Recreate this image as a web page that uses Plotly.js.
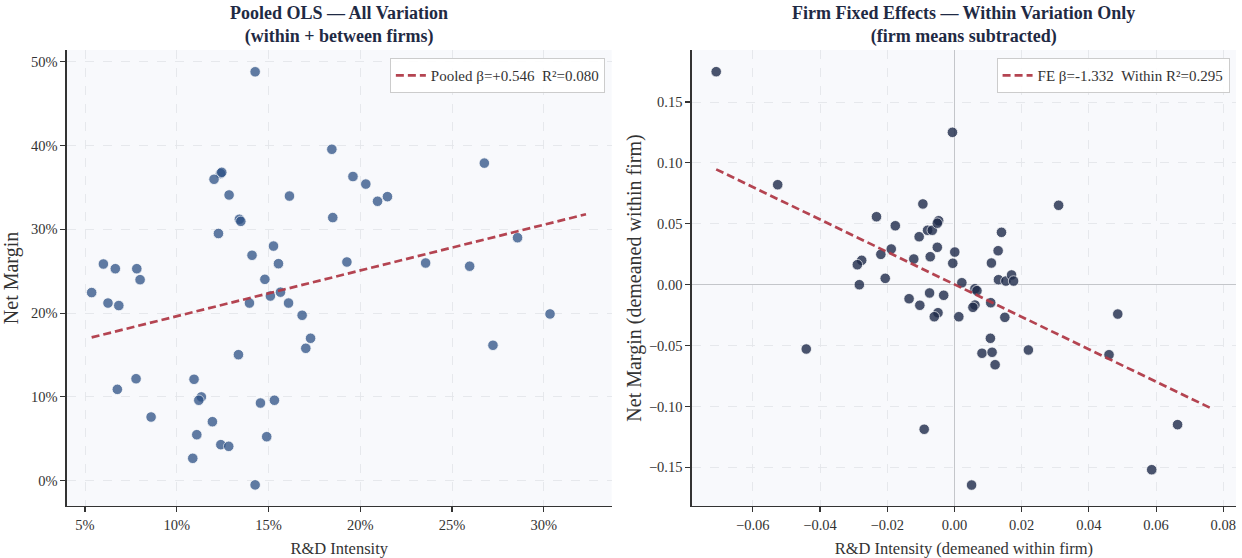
<!DOCTYPE html>
<html><head><meta charset="utf-8">
<script src="https://cdn.plot.ly/plotly-3.0.1.min.js"></script>
<style>html,body{margin:0;padding:0;background:#fff}#chart{width:1242px;height:558px}</style>
</head><body><div id="chart"></div><script>
// Pooled OLS: R&D intensity vs net margin (fractions)
const pooledX = [0.1427,0.1845,0.1238,0.1245,0.1203,0.1285,0.1614,0.1341,0.1349,0.1850,
  0.1227,0.0600,0.0665,0.0782,0.0800,0.0536,0.1410,0.1527,0.1554,0.1480,
  0.1565,0.1960,0.2030,0.2094,0.2148,0.2676,0.1927,0.2356,0.2596,0.2857,
  0.0625,0.0684,0.1396,0.1510,0.1609,0.1683,0.1729,0.1703,0.1336,0.0778,
  0.0676,0.1094,0.1134,0.1120,0.1456,0.1532,0.0860,0.1194,0.1109,0.1490,
  0.1240,0.1283,0.1087,0.1427,0.3034,0.2723];
const pooledY = [0.488,0.3955,0.3665,0.3680,0.3597,0.341,0.3397,0.312,0.3095,0.314,
  0.295,0.2586,0.253,0.253,0.2399,0.2245,0.269,0.280,0.259,0.2403,
  0.2250,0.363,0.354,0.3335,0.339,0.379,0.261,0.2598,0.256,0.290,
  0.212,0.209,0.212,0.2204,0.212,0.1974,0.170,0.158,0.1504,0.1217,
  0.109,0.121,0.100,0.096,0.0927,0.096,0.076,0.0704,0.0549,0.0525,
  0.043,0.041,0.0267,-0.005,0.199,0.1616];
const pooledFitX = [0.0536, 0.323];
const pooledFitY = [0.171, 0.318];
const pooledLabel = 'Pooled \u03b2=+0.546  R\u00b2=0.080';

// Firm fixed effects: demeaned values
const feX = [-0.0709,-0.0526,-0.0006,0.0310,-0.0094,-0.0232,-0.0176,-0.0080,-0.0066,-0.0047,
  -0.0051,-0.0105,-0.0051,-0.0188,-0.0219,-0.0072,-0.0121,-0.0276,-0.0289,-0.0206,
  -0.0283,0.0001,-0.0005,0.0022,0.0061,0.0067,-0.0135,-0.0103,-0.0074,-0.0032,
  -0.0049,-0.0060,0.0013,0.0061,0.0055,0.0108,0.0150,0.0140,0.0130,0.0110,
  0.0131,0.0153,0.0170,0.0176,0.0107,0.0082,0.0112,0.0121,0.0220,0.0486,
  0.0460,0.0664,0.0587,0.0051,-0.0441,-0.0090];
const feY = [0.1749,0.0821,0.1251,0.0652,0.0663,0.0558,0.0484,0.0447,0.0447,0.0525,
  0.0505,0.0394,0.0307,0.0293,0.0249,0.0230,0.0211,0.0200,0.0164,0.0052,
  0.0000,0.0268,0.0176,0.0016,-0.0033,-0.0049,-0.0115,-0.0169,-0.0068,-0.0087,
  -0.0230,-0.0263,-0.0263,-0.0167,-0.0186,-0.0148,-0.0268,0.0430,0.0279,0.0178,
  0.0041,0.0030,0.0080,0.0030,-0.0440,-0.0563,-0.0555,-0.0657,-0.0536,-0.0241,
  -0.0575,-0.1149,-0.1519,-0.1645,-0.0528,-0.1187];
const feFitX = [-0.0709, 0.0764];
const feFitY = [0.0947, -0.1015];
const feLabel = 'FE \u03b2=-1.332  Within R\u00b2=0.295';

const leftTickVals = [0.05,0.10,0.15,0.20,0.25,0.30];
const leftYTickVals = [0,0.1,0.2,0.3,0.4,0.5];
const rightXTickVals = [-0.06,-0.04,-0.02,0,0.02,0.04,0.06,0.08];
const rightYTickVals = [-0.15,-0.10,-0.05,0,0.05,0.10,0.15];

const FONT = 'Liberation Serif, Times New Roman, serif';
const fitColor = '#b03a48';

const traces = [
  {type:'scatter', mode:'markers', x:pooledX, y:pooledY, xaxis:'x', yaxis:'y', showlegend:false,
   marker:{size:10.5, color:'#2c5085', opacity:0.75, line:{color:'#ffffff', width:0.8}}},
  {type:'scatter', mode:'lines', x:pooledFitX, y:pooledFitY, xaxis:'x', yaxis:'y', name:pooledLabel,
   legend:'legend', line:{color:fitColor, width:2.7, dash:'8px,4px'}, opacity:0.95},
  {type:'scatter', mode:'markers', x:feX, y:feY, xaxis:'x2', yaxis:'y2', showlegend:false,
   marker:{size:10.5, color:'#1e2a4a', opacity:0.8, line:{color:'#ffffff', width:0.8}}},
  {type:'scatter', mode:'lines', x:feFitX, y:feFitY, xaxis:'x2', yaxis:'y2', name:feLabel,
   legend:'legend2', line:{color:fitColor, width:2.7, dash:'8px,4px'}, opacity:0.95}
];

const axisCommon = {
  showline:true, linecolor:'#333333', linewidth:1.3, mirror:false,
  ticks:'outside', ticklen:5, tickwidth:1.1, tickcolor:'#333333',
  showgrid:true, gridcolor:'#e3e5ea', gridwidth:0.9, griddash:'dash',
  tickfont:{family:FONT, size:14.5, color:'#333333'},
  zeroline:false
};
function ax(extra){ const o = JSON.parse(JSON.stringify(axisCommon)); return Object.assign(o, extra); }
const xTitleFont = {family:FONT, size:16.5, color:'#333333'};
const yTitleFont = {family:FONT, size:20, color:'#333333'};

const layout = {
  width:1242, height:558,
  margin:{l:0, r:0, t:50, b:52},
  paper_bgcolor:'#ffffff', plot_bgcolor:'#f8f9fc',
  font:{family:FONT, color:'#333333'},
  xaxis: ax({domain:[0.0537,0.4925], range:[0.040,0.337], tickvals:leftTickVals, tickformat:'.0%',
    title:{text:'R&D Intensity', font:xTitleFont}, anchor:'y'}),
  yaxis: ax({domain:[0,1], range:[-0.0302,0.514], tickvals:leftYTickVals, tickformat:'.0%',
    title:{text:'Net Margin', font:yTitleFont}, anchor:'x'}),
  xaxis2: ax({domain:[0.5569,0.9952], range:[-0.0782,0.0838], tickvals:rightXTickVals, tickformat:'.2f',
    title:{text:'R&D Intensity (demeaned within firm)', font:xTitleFont}, anchor:'y2',
    zeroline:true, zerolinecolor:'#c4c6ca', zerolinewidth:1.2}),
  yaxis2: ax({domain:[0,1], range:[-0.1817,0.1927], tickvals:rightYTickVals, tickformat:'.2f',
    title:{text:'Net Margin (demeaned within firm)', font:yTitleFont}, anchor:'x2',
    zeroline:true, zerolinecolor:'#c4c6ca', zerolinewidth:1.2}),
  legend:{x:0.487, xanchor:'right', y:0.982, yanchor:'top', bgcolor:'rgba(255,255,255,0.9)',
    bordercolor:'#cccccc', borderwidth:1, font:{family:FONT, size:15, color:'#333333'}},
  legend2:{x:0.990, xanchor:'right', y:0.982, yanchor:'top', bgcolor:'rgba(255,255,255,0.9)',
    bordercolor:'#cccccc', borderwidth:1, font:{family:FONT, size:15, color:'#333333'}},
  annotations:[
    {text:'<b>Pooled OLS \u2014 All Variation</b><br><b>(within + between firms)</b>', xref:'paper', yref:'paper',
     x:0.273, xanchor:'center', y:1.002, yanchor:'bottom', showarrow:false,
     font:{family:FONT, size:18, color:'#1f2a44'}},
    {text:'<b>Firm Fixed Effects \u2014 Within Variation Only</b><br><b>(firm means subtracted)</b>', xref:'paper', yref:'paper',
     x:0.776, xanchor:'center', y:1.002, yanchor:'bottom', showarrow:false,
     font:{family:FONT, size:18, color:'#1f2a44'}}
  ]
};

Plotly.newPlot('chart', traces, layout, {displayModeBar:false, staticPlot:true});
</script></body></html>
